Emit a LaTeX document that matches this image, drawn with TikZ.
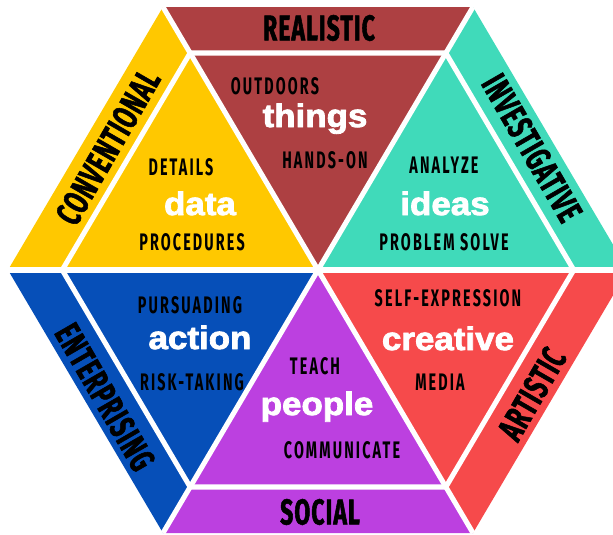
\documentclass[tikz,border=0pt]{standalone}
\usepackage{fontspec}
\usetikzlibrary{calc}

\newfontfamily\bandfont{Fira Sans}[FakeStretch=0.64,FakeBold=1.5,LetterSpace=3]
\newfontfamily\cuefont{Fira Sans}[FakeStretch=0.6,LetterSpace=9]
\newfontfamily\wordfont{Liberation Sans}[FakeStretch=1.08,FakeBold=2.5]

\definecolor{realred}{HTML}{AD4042}
\definecolor{convyellow}{HTML}{FFC800}
\definecolor{invteal}{HTML}{40DABA}
\definecolor{entblue}{HTML}{064FB8}
\definecolor{socpurple}{HTML}{BC40E0}
\definecolor{artcoral}{HTML}{F64A4B}

\tikzset{
  band/.style={font=\bandfont\bfseries\fontsize{25.5}{26}\selectfont, inner sep=0pt},
  cue/.style={font=\cuefont\bfseries\fontsize{17}{17}\selectfont, inner sep=0pt},
  word/.style={font=\wordfont\bfseries\fontsize{23}{23}\selectfont, text=white, inner sep=0pt, anchor=base},
  gap/.style={white, line width=3.6pt},
}

\begin{document}
\begin{tikzpicture}[x=0.025cm, y=-0.025cm]
    \useasboundingbox (0,0) rectangle (613,534);
    \clip (0,0) rectangle (613,534);

    % Hexagon corners around the centre
    \coordinate (c) at (318,270);
    \coordinate (o1) at (163,7);
    \coordinate (o2) at (473,7);
    \coordinate (o3) at (628,270);
    \coordinate (o4) at (473,533);
    \coordinate (o5) at (163,533);
    \coordinate (o6) at (8,270);
    \foreach \k in {1,...,6}
        \coordinate (i\k) at ($(c)!0.825!(o\k)$);

    % Six coloured sectors (triangle + outer band)
    \fill[realred] (c) -- (o1) -- (o2) -- cycle;
    \fill[invteal] (c) -- (o2) -- (o3) -- cycle;
    \fill[artcoral] (c) -- (o3) -- (o4) -- cycle;
    \fill[socpurple] (c) -- (o4) -- (o5) -- cycle;
    \fill[entblue] (c) -- (o5) -- (o6) -- cycle;
    \fill[convyellow] (c) -- (o6) -- (o1) -- cycle;

    % White gaps
    \draw[gap] (o1) -- (o4);
    \draw[gap] (o2) -- (o5);
    \draw[gap] (o3) -- (o6);
    \draw[gap] (i1) -- (i2) -- (i3) -- (i4) -- (i5) -- (i6) -- cycle;

    % Band titles
    \node[band] (realistic) at (319,28) {REALISTIC};
    \node[band] (social) at (320,512) {SOCIAL};
    \node[band, rotate=60] (conventional) at (108,147) {CONVENTIONAL};
    \node[band, rotate=-60] (investigative) at (532,148) {INVESTIGATIVE};
    \node[band, rotate=-60] (enterprising) at (105,397) {ENTERPRISING};
    \node[band, rotate=60] (artistic) at (532,394) {ARTISTIC};

    % Realistic
    \node[cue] (outdoors) at (275,86) {OUTDOORS};
    \node[word] (things) at (315,127) {things};
    \node[cue] (handson) at (325,160) {HANDS-ON};

    % Conventional
    \node[cue] (details) at (181,167) {DETAILS};
    \node[word] (data) at (200,215) {data};
    \node[cue] (procedures) at (192,242) {PROCEDURES};

    % Investigative
    \node[cue] (analyze) at (444,165) {ANALYZE};
    \node[word] (ideas) at (445,215) {ideas};
    \node[cue] (problem) at (444,242) {PROBLEM SOLVE};

    % Enterprising
    \node[cue] (pursuading) at (190,305) {PURSUADING};
    \node[word] (action) at (200,349) {action};
    \node[cue] (risk) at (192,382) {RISK-TAKING};

    % Social
    \node[cue] (teach) at (315,366) {TEACH};
    \node[word] (people) at (317,415) {people};
    \node[cue] (communicate) at (342,450) {COMMUNICATE};

    % Artistic
    \node[cue] (selfexpr) at (448,298) {SELF-EXPRESSION};
    \node[word] (creative) at (448,350) {creative};
    \node[cue] (media) at (440,382) {MEDIA};
\end{tikzpicture}
\end{document}
